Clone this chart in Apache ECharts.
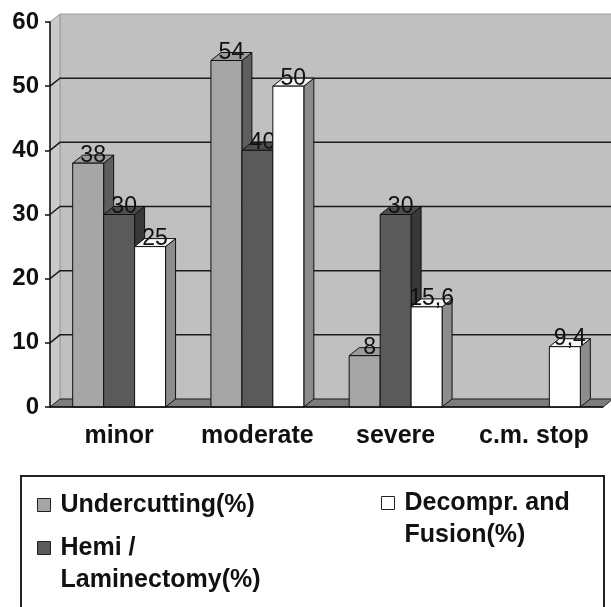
<!DOCTYPE html>
<html>
<head>
<meta charset="utf-8">
<script src="https://cdn.jsdelivr.net/npm/echarts@6/dist/echarts.min.js"></script>
<style>html,body{margin:0;padding:0;background:#fff;}#c{width:611px;height:607px;}</style>
</head>
<body>
<div id="c"></div>
<script>
const categories = ['minor', 'moderate', 'severe', 'c.m. stop'];
const undercutting = [38, 54, 8, null];
const hemi = [30, 40, 30, null];
const decompr = [25, 50, 15.6, 9.4];
const yTicks = [0, 10, 20, 30, 40, 50, 60];
const seriesNames = ['Undercutting(%)', 'Hemi / Laminectomy(%)', 'Decompr. and Fusion(%)'];

const DX = 10, DY = -8;
const FONT = '"Liberation Sans", Arial, sans-serif';
const palettes = [
  {front: '#a6a6a6', top: '#9c9c9c', side: '#5e5e5e'},
  {front: '#5a5a5a', top: '#4e4e4e', side: '#383838'},
  {front: '#ffffff', top: '#f4f4f4', side: '#8c8c8c'}
];

function barRender(idx) {
  const pal = palettes[idx];
  return function (params, api) {
    const v = api.value(1);
    if (v == null || isNaN(v)) return;
    const c = api.value(0);
    const base = api.coord([c, 0]);
    const top = api.coord([c, v]);
    const w = api.size([1, 0])[0] * 0.224;
    const x0 = base[0] - 1.5 * w + idx * w;
    const x1 = x0 + w;
    const yb = base[1], yt = top[1];
    const st = {stroke: '#111', lineWidth: 1};
    return {
      type: 'group',
      children: [
        {type: 'polygon', shape: {points: [[x1, yb], [x1 + DX, yb + DY], [x1 + DX, yt + DY], [x1, yt]]},
         style: Object.assign({fill: pal.side}, st)},
        {type: 'polygon', shape: {points: [[x0, yt], [x0 + DX, yt + DY], [x1 + DX, yt + DY], [x1, yt]]},
         style: Object.assign({fill: pal.top}, st)},
        {type: 'rect', shape: {x: x0, y: yt, width: w, height: yb - yt},
         style: Object.assign({fill: pal.front}, st)},
        {type: 'text', z2: 100, style: {
          text: String(v).replace('.', ','), x: (x0 + x1) / 2 + DX / 2, y: yt - 8,
          align: 'center', verticalAlign: 'middle',
          font: 'normal 23px ' + FONT, fill: '#111'}}
      ]
    };
  };
}

function wallRender(params, api) {
  const cs = params.coordSys;
  const L = cs.x, R = cs.x + cs.width, T = cs.y, B = cs.y + cs.height;
  const children = [
    {type: 'rect', shape: {x: L + DX, y: T + DY, width: cs.width + 20, height: cs.height},
     style: {fill: '#c0c0c0', stroke: '#a0a0a0', lineWidth: 1}},
    {type: 'polygon', shape: {points: [[L, T], [L + DX, T + DY], [L + DX, B + DY], [L, B]]},
     style: {fill: '#cacaca', stroke: '#9a9a9a', lineWidth: 1}},
    {type: 'polygon', shape: {points: [[L, B], [L + DX, B + DY], [R + DX, B + DY], [R, B]]},
     style: {fill: '#7c7c7c', stroke: '#222', lineWidth: 1}}
  ];
  yTicks.forEach(function (t) {
    if (t === 0 || t === 60) return;
    const y = api.coord([0, t])[1];
    children.push({type: 'polyline', shape: {points: [[L, y], [L + DX, y + DY], [R + DX + 20, y + DY]]},
      style: {stroke: '#1a1a1a', lineWidth: 1.5, fill: null}});
  });
  return {type: 'group', children: children};
}

const chart = echarts.init(document.getElementById('c'), null, {renderer: 'canvas'});

function mkLegend(name, color, left, top) {
  return {
    data: [{name: name, icon: 'rect', itemStyle: {color: color, borderColor: '#222', borderWidth: 1}}],
    left: left, top: top, padding: 0, itemWidth: 13, itemHeight: 13,
    selectedMode: false,
    formatter: function (n) {
      // an empty first line keeps the marker level with the first text line
      if (n === seriesNames[1]) return '\nHemi /\nLaminectomy(%)';
      if (n === seriesNames[2]) return '\nDecompr. and\nFusion(%)';
      return n;
    },
    textStyle: {fontFamily: FONT, fontWeight: 'bold', fontSize: 25, lineHeight: 32, color: '#111',
      padding: [0, 0, 0, 5]}
  };
}

chart.setOption({
  animation: false,
  backgroundColor: '#fff',
  grid: {left: 50, right: 8, top: 22, bottom: 200},
  graphic: [{type: 'rect', left: 20, top: 475, shape: {width: 583, height: 160},
    style: {fill: '#fff', stroke: '#222', lineWidth: 2}, z: -1}],
  legend: [
    mkLegend(seriesNames[0], palettes[0].front, 37, 489),
    mkLegend(seriesNames[1], palettes[1].front, 37, 500),
    mkLegend(seriesNames[2], palettes[2].front, 381, 455)
  ],
  xAxis: {
    type: 'category', data: categories, z: 10,
    axisLine: {lineStyle: {color: '#111', width: 1.5}},
    axisTick: {length: 6, lineStyle: {color: '#111', width: 1.5}},
    axisLabel: {interval: 0, fontFamily: FONT, fontWeight: 'bold', fontSize: 25, color: '#111', margin: 17}
  },
  yAxis: {
    type: 'value', min: 0, max: 60, interval: 10, z: 10,
    axisLine: {show: true, lineStyle: {color: '#111', width: 1.5}},
    axisTick: {show: true, length: 5, lineStyle: {color: '#111', width: 1.5}},
    splitLine: {show: false},
    axisLabel: {fontFamily: FONT, fontWeight: 'bold', fontSize: 24, color: '#111', margin: 11}
  },
  series: [
    {type: 'custom', name: 'walls', z: 1, clip: false, silent: true, renderItem: wallRender, data: [[0, 0]]},
    {type: 'custom', name: seriesNames[0], z: 2, clip: false, renderItem: barRender(0),
     data: undercutting.map(function (v, i) { return [i, v]; })},
    {type: 'custom', name: seriesNames[1], z: 3, clip: false, renderItem: barRender(1),
     data: hemi.map(function (v, i) { return [i, v]; })},
    {type: 'custom', name: seriesNames[2], z: 4, clip: false, renderItem: barRender(2),
     data: decompr.map(function (v, i) { return [i, v]; })}
  ]
});
</script>
</body>
</html>
